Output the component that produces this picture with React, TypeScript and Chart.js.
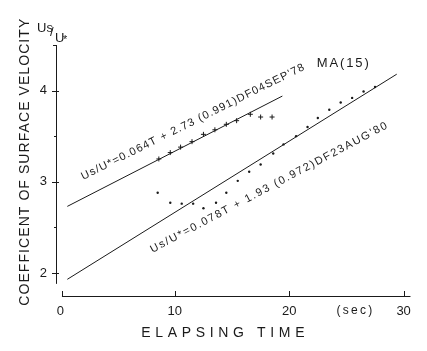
import { useEffect, useRef } from "react";
import { Chart, registerables } from "chart.js";
Chart.register(...registerables);

// ---- data ----
const xTicks = [0, 10, 20, 30];
const yTicks = [2, 3, 4];
const yMinorTicks = [2.5, 3.5];

// DF04SEP'78 (crosses)
const sep78T = [8.6, 9.6, 10.5, 11.5, 12.5, 13.5, 14.5, 15.4, 16.6, 17.5, 18.5];
const sep78V = [3.25, 3.32, 3.38, 3.44, 3.52, 3.57, 3.63, 3.67, 3.74, 3.71, 3.71];
// DF23AUG'80 (dots)
const aug80T = [8.5, 9.6, 10.6, 11.6, 12.5, 13.6, 14.5, 15.5, 16.5, 17.5, 18.6, 19.5, 20.6, 21.6, 22.5, 23.5, 24.5, 25.5, 26.5, 27.5];
const aug80V = [2.88, 2.77, 2.76, 2.76, 2.71, 2.77, 2.88, 3.01, 3.11, 3.19, 3.31, 3.41, 3.5, 3.6, 3.7, 3.79, 3.87, 3.92, 3.99, 4.04];
// regression lines (end points)
const fit78T = [0.6, 19.4];
const fit78V = [2.73, 3.94];
const fit80T = [0.6, 29.4];
const fit80V = [1.93, 4.18];

const xTitle = "ELAPSING TIME";
const yTitle = "COEFFICENT OF SURFACE VELOCITY";
const eq78 = "Us/U*=0.064T + 2.73 (0.991)DF04SEP'78";
const eq80 = "Us/U*=0.078T + 1.93 (0.972)DF23AUG'80";
const caseLabel = "MA(15)";
const unitLabel = "(sec)";

const FONT = '"Liberation Sans", Arial, sans-serif';
const INK = "#1a1a1a";

function setFit(ctx: CanvasRenderingContext2D, text: string, target: number) {
  (ctx as any).letterSpacing = "0px";
  const w = ctx.measureText(text).width;
  const ls = (target - w) / text.length;
  (ctx as any).letterSpacing = ls.toFixed(2) + "px";
}

const decor = {
  id: "decor",
  afterDraw(chart: any) {
    const ctx: CanvasRenderingContext2D = chart.ctx;
    const xs = chart.scales.x;
    const ys = chart.scales.y;
    const X = (v: number) => xs.getPixelForValue(v);
    const Y = (v: number) => ys.getPixelForValue(v);
    const left = chart.chartArea.left;
    const bottom = chart.chartArea.bottom;
    ctx.save();
    ctx.strokeStyle = INK;
    ctx.fillStyle = INK;
    ctx.lineWidth = 1;
    // y axis
    ctx.beginPath();
    ctx.moveTo(left + 0.5, Y(4.5));
    ctx.lineTo(left + 0.5, Y(1.88));
    for (const t of yTicks) {
      ctx.moveTo(left - 4, Math.round(Y(t)) + 0.5);
      ctx.lineTo(left + 3, Math.round(Y(t)) + 0.5);
    }
    for (const t of yMinorTicks) {
      ctx.moveTo(left - 2, Math.round(Y(t)) + 0.5);
      ctx.lineTo(left + 0.5, Math.round(Y(t)) + 0.5);
    }
    ctx.moveTo(left - 3, Y(4.5) + 0.5);
    ctx.lineTo(left + 0.5, Y(4.5) + 0.5);
    // x axis
    ctx.moveTo(X(0.13), bottom + 0.5);
    ctx.lineTo(X(30.6), bottom + 0.5);
    for (const t of [0.13, ...xTicks.slice(1)]) {
      ctx.moveTo(Math.round(X(t)) + 0.5, bottom);
      ctx.lineTo(Math.round(X(t)) + 0.5, bottom - 5);
    }
    ctx.stroke();

    // axis titles
    ctx.textBaseline = "middle";
    ctx.textAlign = "center";
    ctx.font = `14px ${FONT}`;
    setFit(ctx, xTitle, 168);
    ctx.fillText(xTitle, X(14.4), bottom + 37);
    ctx.save();
    ctx.translate(17, Y(3.22));
    ctx.rotate(-Math.PI / 2);
    ctx.font = `14px ${FONT}`;
    setFit(ctx, yTitle, 288);
    ctx.fillText(yTitle, 0, 0);
    ctx.restore();

    // unit label
    ctx.font = `12px ${FONT}`;
    setFit(ctx, unitLabel, 38);
    ctx.fillText(unitLabel, X(25.8), bottom + 15);

    // Us/U* label at top of y axis
    (ctx as any).letterSpacing = "0px";
    ctx.textAlign = "left";
    ctx.textBaseline = "alphabetic";
    ctx.font = `13px ${FONT}`;
    ctx.fillText("Us", left - 19, Y(4.5) - 13);
    ctx.fillText("/", left - 6, Y(4.5) - 9);
    ctx.fillText("U", left - 1, Y(4.5) - 3);
    ctx.font = `11px ${FONT}`;
    ctx.fillText("*", left + 7, Y(4.5) - 2);

    // MA(15)
    ctx.font = `13px ${FONT}`;
    setFit(ctx, caseLabel, 54);
    ctx.fillText(caseLabel, X(22.4), Y(4.26));

    // equations along the lines
    const eqs = [
      { text: eq78, t: 2.0, v: 3.02, angle: 26.5, width: 249 },
      { text: eq80, t: 8.05, v: 2.22, angle: 28, width: 268 },
    ];
    for (const e of eqs) {
      ctx.save();
      ctx.translate(X(e.t), Y(e.v));
      ctx.rotate((-e.angle * Math.PI) / 180);
      ctx.font = `11px ${FONT}`;
      setFit(ctx, e.text, e.width);
      ctx.fillText(e.text, 0, 0);
      ctx.restore();
    }
    ctx.restore();
  },
};

export default function App() {
  const ref = useRef<HTMLCanvasElement>(null);
  useEffect(() => {
    if (!ref.current) return;
    const pts = (t: number[], v: number[]) => t.map((x, i) => ({ x, y: v[i] }));
    const chart = new Chart(ref.current, {
      type: "scatter",
      data: {
        datasets: [
          {
            data: pts(fit78T, fit78V),
            showLine: true,
            borderColor: INK,
            borderWidth: 1,
            pointRadius: 0,
          },
          {
            data: pts(fit80T, fit80V),
            showLine: true,
            borderColor: INK,
            borderWidth: 1,
            pointRadius: 0,
          },
          {
            data: pts(sep78T, sep78V),
            pointStyle: "cross",
            pointRadius: 2.5,
            borderColor: INK,
            borderWidth: 1,
          },
          {
            data: pts(aug80T, aug80V),
            pointStyle: "circle",
            pointRadius: 1.2,
            backgroundColor: INK,
            borderColor: INK,
            borderWidth: 0,
          },
        ],
      },
      options: {
        responsive: false,
        animation: false,
        layout: { padding: { top: 37, right: 7, left: 0, bottom: 0 } },
        plugins: { legend: { display: false }, tooltip: { enabled: false } },
        scales: {
          x: {
            type: "linear",
            min: -0.39,
            max: 30.7,
            grid: { display: false, drawTicks: false },
            border: { display: false },
            ticks: {
              color: INK,
              font: { family: FONT, size: 13 },
              padding: 8,
              maxRotation: 0,
              autoSkip: false,
              callback: (v: any) => String(v),
            },
            afterBuildTicks: (s: any) => {
              s.ticks = xTicks.map((value) => ({ value }));
            },
            afterFit: (s: any) => {
              s.height = 47;
            },
          },
          y: {
            type: "linear",
            min: 1.747,
            max: 4.5,
            grid: { display: false, drawTicks: false },
            border: { display: false },
            ticks: {
              color: INK,
              font: { family: FONT, size: 13 },
              padding: 9,
              autoSkip: false,
              callback: (v: any) => String(v),
            },
            afterBuildTicks: (s: any) => {
              s.ticks = yTicks.map((value) => ({ value }));
            },
            afterFit: (s: any) => {
              s.width = 48;
            },
          },
        },
      },
      plugins: [decor],
    });
    return () => chart.destroy();
  }, []);
  return <canvas ref={ref} width={411} height={335} />;
}
